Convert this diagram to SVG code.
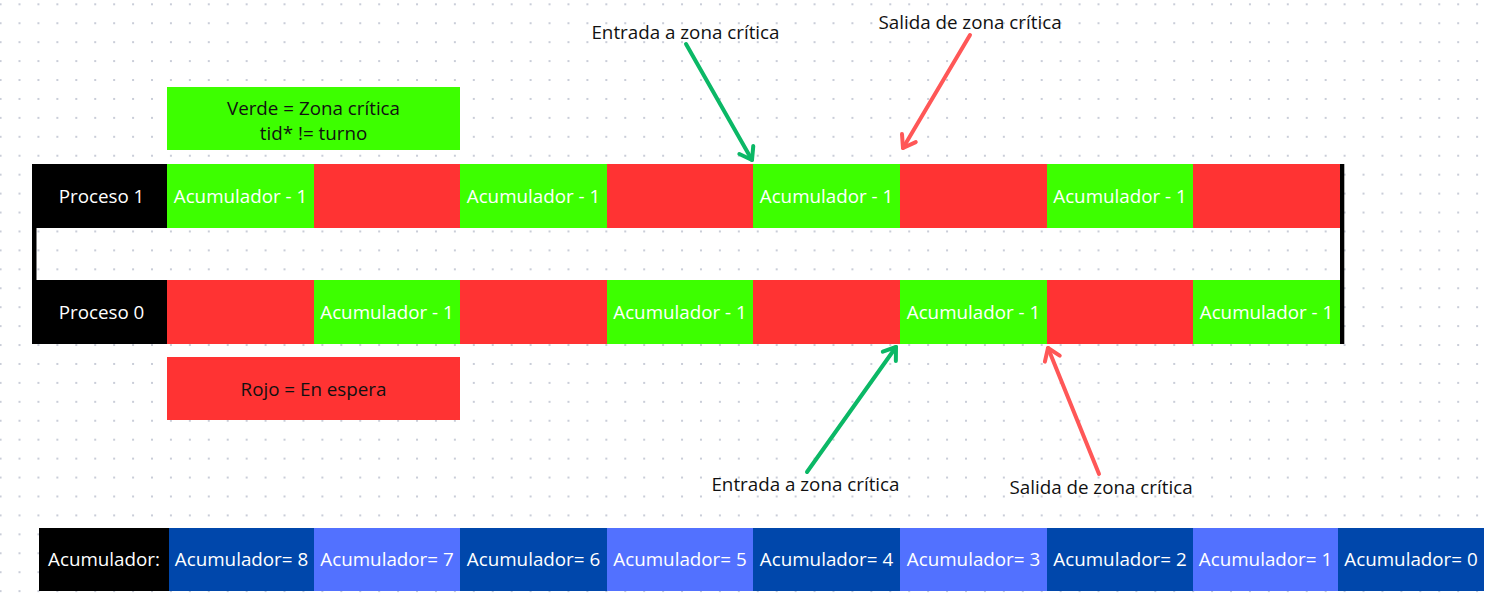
<svg xmlns="http://www.w3.org/2000/svg" width="1490" height="598" viewBox="0 0 1490 598">
<defs>
<pattern id="dots" patternUnits="userSpaceOnUse" x="18.5" y="3.3" width="18.93" height="18.93">
<rect x="0" y="0" width="2" height="2" fill="#c9cdd8"/>
</pattern>
<marker id="hg" markerUnits="userSpaceOnUse" markerWidth="30" markerHeight="30" refX="0" refY="0" orient="auto" overflow="visible">
<path d="M -11.5 -8 L 0 0 L -11.5 8" fill="none" stroke="#0bb866" stroke-width="4" stroke-linecap="round" stroke-linejoin="round"/>
</marker>
<marker id="hr" markerUnits="userSpaceOnUse" markerWidth="30" markerHeight="30" refX="0" refY="0" orient="auto" overflow="visible">
<path d="M -11.5 -8 L 0 0 L -11.5 8" fill="none" stroke="#ff5757" stroke-width="4" stroke-linecap="round" stroke-linejoin="round"/>
</marker>
</defs>
<style>
text{font-family:"Open Sans","Noto Sans","DejaVu Sans",sans-serif;font-size:18.8px;text-anchor:middle}
.w{fill:#ffffff}
.k{fill:#111111}
.g{fill:#3dff00}
.r{fill:#ff3333}
.b{fill:#000000}
.db{fill:#0047ab}
.lb{fill:#5271ff}
.ag{stroke:#0bb866;stroke-width:4;fill:none;stroke-linecap:round;marker-end:url(#hg)}
.ar{stroke:#ff5757;stroke-width:4;fill:none;stroke-linecap:round;marker-end:url(#hr)}
</style>
<rect width="1490" height="598" fill="#ffffff"/>
<rect width="1490" height="598" fill="url(#dots)"/>

<g id="legend-verde">
<rect class="g" x="167" y="87" width="293" height="63"/>
<text class="k" x="313.5" y="114.5">Verde = Zona crítica</text>
<text class="k" x="313.5" y="139.5">tid* != turno</text>
</g>
<g id="legend-rojo">
<rect class="r" x="167" y="357" width="293" height="63"/>
<text class="k" x="313.5" y="395.5">Rojo = En espera</text>
</g>

<g id="frame">
<rect class="b" x="32" y="164" width="4.5" height="180"/>
<rect class="b" x="1340" y="164" width="4.3" height="180"/>
</g>

<g id="proceso1">
<rect class="b" x="36" y="164" width="131" height="64"/>
<text class="w" x="101.5" y="202.5">Proceso 1</text>
</g>
<g id="p1-s1"><rect class="g" x="167" y="164" width="147" height="64"/><text class="w" x="240.5" y="202.5">Acumulador - 1</text></g>
<g id="p1-s2"><rect class="r" x="314" y="164" width="146" height="64"/></g>
<g id="p1-s3"><rect class="g" x="460" y="164" width="147" height="64"/><text class="w" x="533.5" y="202.5">Acumulador - 1</text></g>
<g id="p1-s4"><rect class="r" x="607" y="164" width="146" height="64"/></g>
<g id="p1-s5"><rect class="g" x="753" y="164" width="147" height="64"/><text class="w" x="826.5" y="202.5">Acumulador - 1</text></g>
<g id="p1-s6"><rect class="r" x="900" y="164" width="147" height="64"/></g>
<g id="p1-s7"><rect class="g" x="1047" y="164" width="146" height="64"/><text class="w" x="1120" y="202.5">Acumulador - 1</text></g>
<g id="p1-s8"><rect class="r" x="1193" y="164" width="147" height="64"/></g>

<g id="proceso0">
<rect class="b" x="36" y="280" width="131" height="64"/>
<text class="w" x="101.5" y="318.5">Proceso 0</text>
</g>
<g id="p0-s1"><rect class="r" x="167" y="280" width="147" height="64"/></g>
<g id="p0-s2"><rect class="g" x="314" y="280" width="146" height="64"/><text class="w" x="387" y="318.5">Acumulador - 1</text></g>
<g id="p0-s3"><rect class="r" x="460" y="280" width="147" height="64"/></g>
<g id="p0-s4"><rect class="g" x="607" y="280" width="146" height="64"/><text class="w" x="680" y="318.5">Acumulador - 1</text></g>
<g id="p0-s5"><rect class="r" x="753" y="280" width="147" height="64"/></g>
<g id="p0-s6"><rect class="g" x="900" y="280" width="147" height="64"/><text class="w" x="973.5" y="318.5">Acumulador - 1</text></g>
<g id="p0-s7"><rect class="r" x="1047" y="280" width="146" height="64"/></g>
<g id="p0-s8"><rect class="g" x="1193" y="280" width="147" height="64"/><text class="w" x="1266.5" y="318.5">Acumulador - 1</text></g>

<g id="label-entrada-top"><text class="k" x="685.5" y="38.5">Entrada a zona crítica</text></g>
<g id="label-salida-top"><text class="k" x="970" y="28.5">Salida de zona crítica</text></g>
<g id="label-entrada-bottom"><text class="k" x="805.5" y="491">Entrada a zona crítica</text></g>
<g id="label-salida-bottom"><text class="k" x="1101" y="493.5">Salida de zona crítica</text></g>

<g id="connectors">
<line class="ag" x1="686" y1="44" x2="752" y2="160"/>
<line class="ar" x1="970" y1="35" x2="903" y2="148"/>
<line class="ag" x1="807" y1="472" x2="896" y2="347"/>
<line class="ar" x1="1099" y1="474" x2="1048" y2="348"/>
</g>

<g id="acumulador-label"><rect class="b" x="39" y="528" width="130" height="63"/><text class="w" x="104" y="566">Acumulador:</text></g>
<g id="acc8"><rect class="db" x="169" y="528" width="145" height="63"/><text class="w" x="241.5" y="566">Acumulador= 8</text></g>
<g id="acc7"><rect class="lb" x="314" y="528" width="146" height="63"/><text class="w" x="387" y="566">Acumulador= 7</text></g>
<g id="acc6"><rect class="db" x="460" y="528" width="147" height="63"/><text class="w" x="533.5" y="566">Acumulador= 6</text></g>
<g id="acc5"><rect class="lb" x="607" y="528" width="146" height="63"/><text class="w" x="680" y="566">Acumulador= 5</text></g>
<g id="acc4"><rect class="db" x="753" y="528" width="147" height="63"/><text class="w" x="826.5" y="566">Acumulador= 4</text></g>
<g id="acc3"><rect class="lb" x="900" y="528" width="147" height="63"/><text class="w" x="973.5" y="566">Acumulador= 3</text></g>
<g id="acc2"><rect class="db" x="1047" y="528" width="146" height="63"/><text class="w" x="1120" y="566">Acumulador= 2</text></g>
<g id="acc1"><rect class="lb" x="1193" y="528" width="145" height="63"/><text class="w" x="1265.5" y="566">Acumulador= 1</text></g>
<g id="acc0"><rect class="db" x="1338" y="528" width="146" height="63"/><text class="w" x="1411" y="566">Acumulador= 0</text></g>
</svg>
